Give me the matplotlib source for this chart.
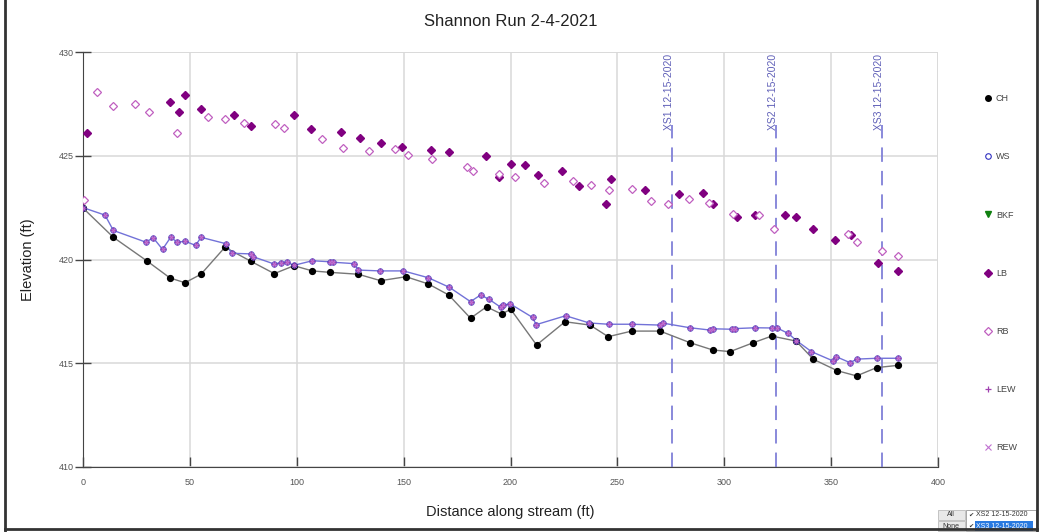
import matplotlib
matplotlib.use("Agg")
import matplotlib.pyplot as plt
from matplotlib.lines import Line2D
from matplotlib.patches import Rectangle

plt.rcParams['font.family'] = ['Liberation Sans', 'DejaVu Sans']

# channel bottom (CH)
ch_x = [0, 14.2, 29.8, 40.7, 47.7, 55.2, 66.4, 78.6, 89.5, 98.7, 107.3, 115.6, 128.8,
        139.2, 151.1, 161.6, 171.1, 181.3, 188.8, 195.8, 200.1, 212.2, 225.5, 237.2,
        245.7, 256.7, 270.0, 284.0, 294.6, 302.7, 313.6, 322.2, 333.6, 341.7, 352.9,
        361.9, 371.3, 381.4]
ch_y = [422.48, 421.07, 419.94, 419.11, 418.88, 419.29, 420.59, 419.91, 419.32, 419.70,
        419.45, 419.38, 419.29, 418.98, 419.17, 418.82, 418.29, 417.17, 417.72, 417.37,
        417.60, 415.88, 417.00, 416.84, 416.28, 416.55, 416.55, 415.99, 415.64, 415.56,
        415.99, 416.31, 416.07, 415.19, 414.64, 414.39, 414.79, 414.90]

# water surface (WS)
ws_x = [0, 10.3, 14.2, 29.3, 32.9, 37.2, 41.0, 44.2, 47.7, 52.7, 55.2, 66.9, 69.5, 78.7,
        79.7, 89.5, 92.6, 95.3, 98.7, 107.3, 115.6, 116.8, 126.9, 128.8, 139.0, 149.9,
        161.6, 171.4, 181.3, 186.0, 190.0, 195.4, 196.5, 199.9, 210.3, 212.0, 225.8,
        236.9, 245.9, 256.7, 270.0, 271.5, 284.0, 293.3, 294.6, 303.4, 305.0, 314.4,
        322.2, 324.5, 329.9, 333.8, 340.8, 350.7, 352.3, 358.8, 362.2, 371.3, 381.4]
ws_y = [422.50, 422.14, 421.40, 420.84, 421.04, 420.49, 421.07, 420.83, 420.88, 420.68,
        421.07, 420.76, 420.30, 420.27, 420.13, 419.78, 419.85, 419.87, 419.72, 419.94,
        419.89, 419.87, 419.80, 419.49, 419.45, 419.45, 419.12, 418.66, 417.97, 418.29,
        418.08, 417.70, 417.80, 417.86, 417.21, 416.86, 417.29, 416.94, 416.88, 416.88,
        416.84, 416.93, 416.71, 416.60, 416.66, 416.64, 416.67, 416.71, 416.70, 416.71,
        416.44, 416.09, 415.56, 415.12, 415.32, 415.03, 415.20, 415.24, 415.24]

# left bank (LB)
lb_x = [2.0, 40.7, 44.9, 47.7, 55.3, 70.6, 78.7, 98.8, 106.8, 120.5, 129.6, 139.6, 149.2,
        162.8, 171.2, 188.6, 194.7, 200.4, 206.9, 213.0, 224.2, 232.2, 244.8, 247.0,
        262.9, 278.7, 290.2, 294.9, 306.1, 314.2, 328.4, 333.6, 341.7, 351.8, 359.1,
        371.9, 381.4]
lb_y = [426.10, 427.58, 427.13, 427.93, 427.27, 426.96, 426.43, 426.96, 426.29, 426.16,
        425.84, 425.63, 425.42, 425.28, 425.18, 425.00, 423.98, 424.60, 424.54, 424.07,
        424.28, 423.52, 422.66, 423.89, 423.35, 423.17, 423.19, 422.66, 422.05, 422.14,
        422.14, 422.05, 421.45, 420.94, 421.18, 419.85, 419.43]

# right bank (RB)
rb_x = [0.5, 6.7, 14.2, 24.2, 30.9, 44.0, 58.6, 66.3, 75.5, 89.6, 94.0, 111.6, 121.5,
        133.6, 146.1, 152.2, 163.1, 179.6, 182.5, 194.4, 201.9, 215.9, 229.4, 237.5,
        246.2, 256.8, 265.7, 273.8, 283.3, 292.9, 304.2, 316.3, 323.4, 358.0, 361.9,
        373.9, 381.4]
rb_y = [422.87, 428.07, 427.40, 427.48, 427.11, 426.10, 426.85, 426.79, 426.59, 426.54,
        426.34, 425.81, 425.36, 425.21, 425.33, 425.02, 424.83, 424.44, 424.27, 424.10,
        423.98, 423.69, 423.80, 423.57, 423.35, 423.42, 422.84, 422.67, 422.90, 422.74,
        422.18, 422.16, 421.47, 421.23, 420.84, 420.41, 420.16]

# left / right edge of water sit on the water surface points
lew_x, lew_y = ws_x, ws_y
rew_x, rew_y = ws_x, ws_y

# cross section markers
xs_pos = [275.5, 324.2, 373.8]
xs_labels = ["XS1 12-15-2020", "XS2 12-15-2020", "XS3 12-15-2020"]

fig = plt.figure(figsize=(10.41, 5.32), dpi=100)
ax = fig.add_axes([83/1041, 1-467/532, (938-83)/1041, (467-52)/532])

gridc = '#d9d9d9'
ax.set_xlim(0, 400)
ax.set_ylim(410, 430)
ax.set_xticks(range(0, 401, 50))
ax.set_yticks(range(410, 431, 5))
ax.grid(True, color=gridc, linewidth=1.1)
ax.set_axisbelow(True)
for s in ['top', 'right']:
    ax.spines[s].set_visible(False)
ax.plot([0, 400], [430, 430], color=gridc, lw=1.1, zorder=0.5)
ax.plot([400, 400], [410, 430], color=gridc, lw=1.1, zorder=0.5)
ax.spines['left'].set_color('#444444')
ax.spines['bottom'].set_color('#444444')
ax.tick_params(axis='y', direction='inout', length=11, width=1, color='#444444',
               labelsize=6.5, labelcolor='#555555', pad=1)
ax.tick_params(axis='x', direction='in', length=7, width=1, color='#444444',
               labelsize=6.5, labelcolor='#555555', pad=8)

ax.plot(ch_x, ch_y, color='#777777', lw=1, zorder=3)
ax.plot(ch_x, ch_y, 'o', color='black', ms=4.2, zorder=4)
ax.plot(ws_x, ws_y, color='#7272d8', lw=1, zorder=3)
ax.plot(ws_x, ws_y, 'o', mfc='none', mec='#4040c0', ms=3.8, mew=0.8, zorder=4)
ax.plot(lew_x, lew_y, '+', color='#a040b0', ms=4.5, mew=0.9, zorder=5)
ax.plot(rew_x, rew_y, 'x', color='#c070d0', ms=3.5, mew=0.8, zorder=5)
ax.plot(lb_x, lb_y, 'D', color='#800080', ms=3.6, zorder=4)
ax.plot(rb_x, rb_y, 'D', mfc='white', mec='#c060c0', ms=3.6, mew=0.9, zorder=4)

for xp, lab in zip(xs_pos, xs_labels):
    ax.plot([xp, xp], [410, 426.5], color='#8080d8', lw=1.3, dashes=(8, 5), zorder=2)
    ax.text(xp - 1.5, 429.9, lab, rotation=90, ha='center', va='top', fontsize=7.5,
            color='#6060b8', zorder=6)

ax.set_title("Shannon Run 2-4-2021", fontsize=12, color='#222222', pad=19)
ax.set_xlabel("Distance along stream (ft)", fontsize=10.5, color='#222222', labelpad=13)
ax.set_ylabel("Elevation (ft)", fontsize=10.5, color='#222222', labelpad=17)

handles = [
    Line2D([], [], ls='none', marker='o', color='black', ms=4),
    Line2D([], [], ls='none', marker='o', mfc='none', mec='#3030c0', ms=4, mew=0.8),
    Line2D([], [], ls='none', marker='v', color='#108010', ms=4.5),
    Line2D([], [], ls='none', marker='D', color='#800080', ms=4),
    Line2D([], [], ls='none', marker='D', mfc='white', mec='#c060c0', ms=4, mew=0.9),
    Line2D([], [], ls='none', marker='+', color='#a040b0', ms=5, mew=0.9),
    Line2D([], [], ls='none', marker='x', color='#c070d0', ms=4, mew=0.8),
]
names = ["CH", "WS", "BKF", "LB", "RB", "LEW", "REW"]
fig.legend(handles, names, loc='upper left', bbox_to_anchor=(975/1041, 1-86/532),
           frameon=False, fontsize=6.5, labelspacing=5.45, handlelength=1,
           handletextpad=0.4, labelcolor='#444444')

# outer frame
for xs, ys in [([5/1041, 5/1041], [0, 1]), ([1037/1041, 1037/1041], [0, 1]),
               ([5/1041, 1037/1041], [3/532, 3/532])]:
    fig.add_artist(Line2D(xs, ys, color='#333333', lw=2, transform=fig.transFigure))

# small selector widget bottom right
def fx(p):
    return p / 1041
def fy(p):
    return 1 - p / 532
fig.add_artist(Rectangle((fx(938), fy(520)), fx(27), 10/532, transform=fig.transFigure,
                         facecolor='#e8e8e8', edgecolor='#bbbbbb', lw=0.6))
fig.add_artist(Rectangle((fx(938), fy(531)), fx(27), 10/532, transform=fig.transFigure,
                         facecolor='#e8e8e8', edgecolor='#bbbbbb', lw=0.6))
fig.text(fx(951), fy(515), "All", fontsize=5, ha='center', va='center', color='#333333')
fig.text(fx(951), fy(526), "None", fontsize=5, ha='center', va='center', color='#333333')
fig.add_artist(Rectangle((fx(966), fy(531)), fx(70), 21/532, transform=fig.transFigure,
                         facecolor='white', edgecolor='#999999', lw=0.6))
fig.add_artist(Rectangle((fx(975), fy(531)), fx(58), 10/532, transform=fig.transFigure,
                         facecolor='#2a7ae0', edgecolor='none'))
fig.text(fx(968), fy(515), "\u2714", fontsize=4.5, va='center', color='#333333',
         family=['DejaVu Sans'])
fig.text(fx(968), fy(526), "\u2714", fontsize=4.5, va='center', color='#333333',
         family=['DejaVu Sans'])
fig.text(fx(976), fy(515), "XS2 12-15-2020", fontsize=5, va='center', color='#333333')
fig.text(fx(976), fy(526), "XS3 12-15-2020", fontsize=5, va='center', color='white')

fig.savefig("out.png", dpi=100)
